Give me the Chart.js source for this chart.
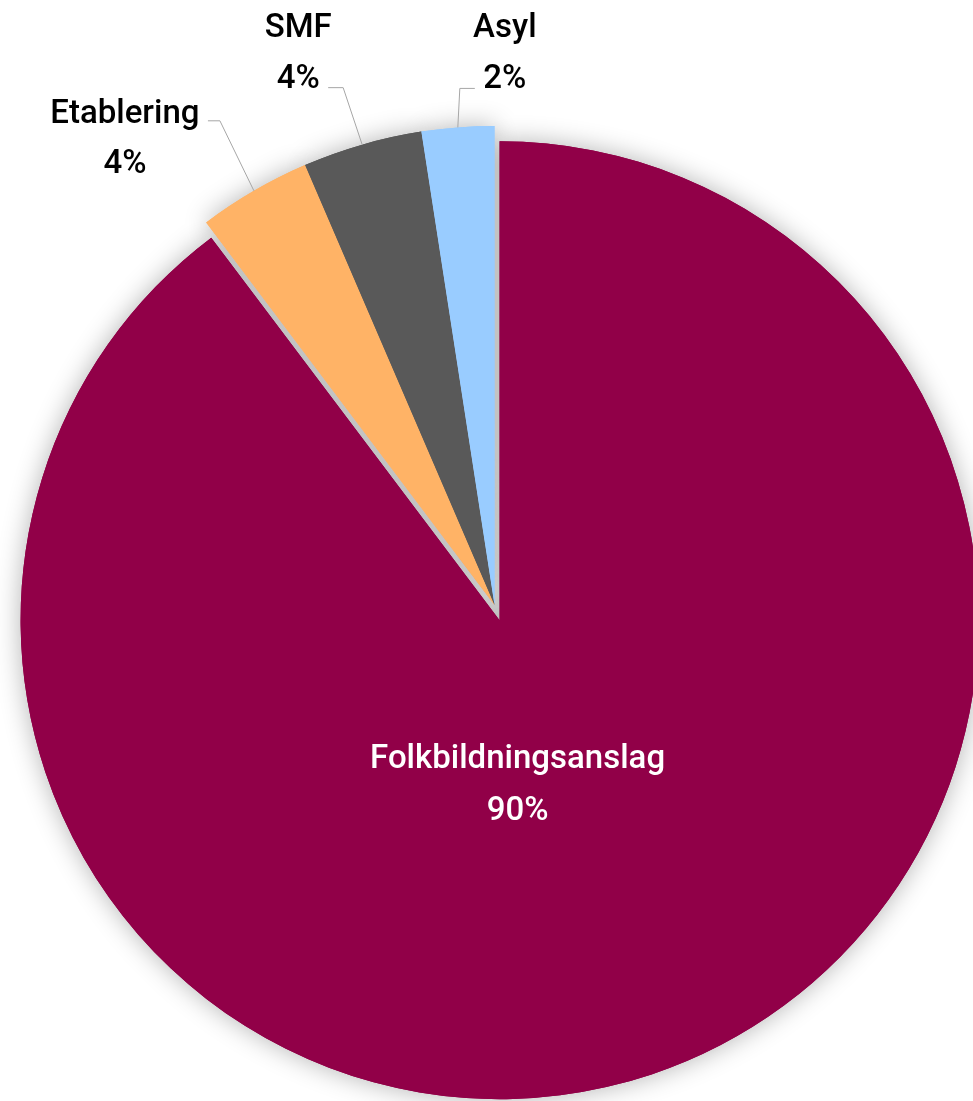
<!DOCTYPE html>
<html>
<head>
<meta charset="utf-8">
<script src="https://cdn.jsdelivr.net/npm/chart.js@4.4.1/dist/chart.umd.min.js"></script>
<style>
  html, body { margin: 0; padding: 0; background: #fff; }
  #wrap { position: relative; width: 973px; height: 1101px; }
</style>
</head>
<body>
<div id="wrap"><canvas id="myChart"></canvas></div>
<script>
    const categories = ['Folkbildningsanslag', 'Etablering', 'SMF', 'Asyl'];
    const shares = [89.72, 3.81, 4.03, 2.44];
    const colors = ['#910048', '#FFB366', '#595959', '#99CCFF'];
    const explode = [16, 0, 0, 0];

    // Label placement: outside labels in px from the slice edge at its mid angle,
    // the inside label in px from the (exploded) slice centre
    const labelPlacement = [
      { inside: true, x: 18, y1: 148, y2: 200 },
      { x: -129, y1: -68, y2: -18, elbow: [-34, -70], attach: [-46, -70] },
      { x: -64, y1: -108, y2: -57, elbow: [-19, -57], attach: [-34, -57] },
      { x: 47, y1: -90, y2: -39, elbow: [2, -39], attach: [17, -39] }
    ];

    // Exploded slice: move the whole arc outward without growing its radius
    const baseArcDraw = Chart.ArcElement.prototype.draw;
    Chart.ArcElement.prototype.draw = function (ctx, area) {
      const s = this.$explode || 0;
      if (!s) return baseArcDraw.call(this, ctx, area);
      const mid = (this.startAngle + this.endAngle) / 2;
      ctx.save();
      ctx.translate(Math.cos(mid) * s, Math.sin(mid) * s);
      baseArcDraw.call(this, ctx, area);
      ctx.restore();
    };

    // Soft shadow under all slices (drawn first so it never covers a slice)
    const pieShadow = {
      id: 'pieShadow',
      beforeDatasetsDraw(chart) {
        const ctx = chart.ctx;
        const arcs = chart.getDatasetMeta(0).data;
        ctx.save();
        ctx.shadowColor = 'rgba(0,0,0,0.3)';
        ctx.shadowBlur = 26;
        arcs.forEach((arc, i) => {
          arc.$explode = explode[i];
          arc.draw(ctx);
        });
        ctx.restore();
      }
    };

    const sliceLabels = {
      id: 'sliceLabels',
      afterDatasetsDraw(chart) {
        const ctx = chart.ctx;
        const meta = chart.getDatasetMeta(0);
        const total = shares.reduce((a, b) => a + b, 0);
        ctx.save();
        ctx.font = '500 33px Roboto';
        ctx.textAlign = 'center';
        ctx.textBaseline = 'alphabetic';
        meta.data.forEach((arc, i) => {
          const p = labelPlacement[i];
          const mid = (arc.startAngle + arc.endAngle) / 2;
          const s = explode[i];
          const cx = arc.x + Math.cos(mid) * s;
          const cy = arc.y + Math.sin(mid) * s;
          const pct = Math.round(shares[i] / total * 100) + '%';
          let ox = cx, oy = cy;
          if (p.inside) {
            ctx.fillStyle = '#fff';
          } else {
            ox = cx + Math.cos(mid) * arc.outerRadius;
            oy = cy + Math.sin(mid) * arc.outerRadius;
            ctx.strokeStyle = '#a6a6a6';
            ctx.lineWidth = 1;
            ctx.beginPath();
            ctx.moveTo(ox, oy);
            ctx.lineTo(ox + p.elbow[0], oy + p.elbow[1]);
            ctx.lineTo(ox + p.attach[0], oy + p.attach[1]);
            ctx.stroke();
            ctx.fillStyle = '#000';
          }
          ctx.fillText(categories[i], ox + p.x, oy + p.y1);
          ctx.fillText(pct, ox + p.x, oy + p.y2);
        });
        ctx.restore();
      }
    };

    const config = {
      type: 'pie',
      data: {
        labels: categories,
        datasets: [{
          data: shares,
          backgroundColor: colors,
          borderWidth: 0,
          radius: 479
        }]
      },
      options: {
        responsive: true,
        maintainAspectRatio: false,
        animation: false,
        events: [],
        layout: { padding: { left: 16, top: 109, right: 0, bottom: 0 } },
        plugins: {
          legend: { display: false },
          tooltip: { enabled: false }
        }
      },
      plugins: [pieShadow, sliceLabels]
    };

    document.fonts.load('500 33px Roboto').finally(() => {
      new Chart(document.getElementById('myChart'), config);
    });
</script>
</body>
</html>
